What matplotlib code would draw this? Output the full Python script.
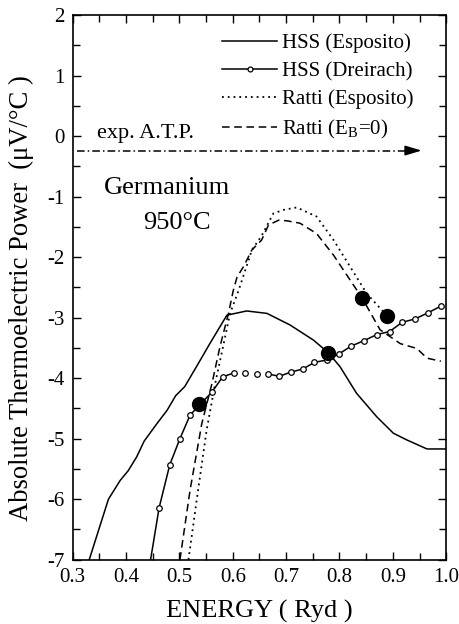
import numpy as np
import matplotlib.pyplot as plt
from matplotlib.lines import Line2D
from matplotlib.ticker import MultipleLocator

plt.rcParams['font.family'] = ['Liberation Serif', 'DejaVu Serif']
plt.rcParams['mathtext.fontset'] = 'custom'
plt.rcParams['mathtext.rm'] = 'Liberation Serif'
plt.rcParams['axes.unicode_minus'] = False

# HSS (Esposito)
hss_esp_x = [0.331, 0.367, 0.389, 0.404, 0.420, 0.434, 0.458, 0.477, 0.493, 0.510,
             0.532, 0.557, 0.589, 0.626, 0.664, 0.707, 0.751, 0.779, 0.801, 0.832,
             0.870, 0.901, 0.926, 0.964, 1.000]
hss_esp_y = [-7.00, -6.00, -5.69, -5.53, -5.30, -5.04, -4.75, -4.53, -4.29, -4.14,
             -3.81, -3.43, -2.96, -2.89, -2.93, -3.12, -3.37, -3.58, -3.81, -4.25,
             -4.64, -4.91, -5.02, -5.17, -5.17]

# HSS (Dreirach), computed points
hss_dre_x = [0.462, 0.482, 0.501, 0.520, 0.561, 0.581, 0.603, 0.623, 0.645, 0.666,
             0.687, 0.709, 0.731, 0.753, 0.776, 0.799, 0.822, 0.846, 0.870, 0.894,
             0.917, 0.942, 0.966, 0.990]
hss_dre_y = [-6.14, -5.43, -5.00, -4.61, -4.23, -3.98, -3.91, -3.92, -3.93, -3.93,
             -3.97, -3.90, -3.85, -3.74, -3.70, -3.60, -3.47, -3.38, -3.28, -3.23,
             -3.08, -3.02, -2.92, -2.81]
# where the Dreirach curve comes in from below the frame
hss_dre_start = (0.446, -7.00)

# Ratti (Esposito)
ratti_esp_x = [0.517, 0.535, 0.551, 0.567, 0.583, 0.595, 0.611, 0.636, 0.654, 0.676,
               0.695, 0.720, 0.757, 0.789, 0.820, 0.851, 0.889]
ratti_esp_y = [-7.00, -5.85, -4.86, -4.09, -3.43, -2.93, -2.55, -1.88, -1.65, -1.28,
               -1.22, -1.18, -1.33, -1.72, -2.16, -2.60, -2.97]

# Ratti (E_B = 0)
ratti_eb0_x = [0.501, 0.520, 0.542, 0.561, 0.576, 0.592, 0.601, 0.608, 0.620, 0.636,
               0.654, 0.667, 0.686, 0.701, 0.726, 0.757, 0.789, 0.820, 0.842, 0.876,
               0.914, 0.945, 0.964, 0.990]
ratti_eb0_y = [-7.00, -5.85, -4.75, -4.09, -3.48, -2.93, -2.55, -2.33, -2.16, -1.88,
               -1.72, -1.47, -1.39, -1.40, -1.44, -1.61, -1.97, -2.38, -2.67, -3.20,
               -3.43, -3.51, -3.67, -3.72]

# crossing points marked with big dots
cross_x = [0.536, 0.779, 0.842, 0.889]
cross_y = [-4.43, -3.58, -2.67, -2.97]

# experimental absolute thermoelectric power
exp_atp = -0.24
exp_x = [0.309, 0.954]

fig = plt.figure(figsize=(4.6, 6.24), dpi=100)
ax = fig.add_axes([0.158, 0.103, 0.812, 0.873])

lw = 1.1
dotted = (0, (1, 2.2))
dashed = (0, (5, 3))

ax.plot(hss_esp_x, hss_esp_y, color='k', lw=lw)

# Dreirach line has no segments across the flat part near 0.6-0.67
cut_a = hss_dre_x.index(0.603) + 1
cut_b = hss_dre_x.index(0.666)
ax.plot([hss_dre_start[0]] + hss_dre_x[:cut_a], [hss_dre_start[1]] + hss_dre_y[:cut_a],
        color='k', lw=lw)
ax.plot(hss_dre_x[cut_b:], hss_dre_y[cut_b:], color='k', lw=lw)
ax.plot(hss_dre_x, hss_dre_y, ls='none', marker='o', ms=4, mfc='white', mec='k',
        mew=0.9, zorder=4)

ax.plot(ratti_esp_x, ratti_esp_y, color='k', lw=1.3, ls=dotted)
ax.plot(ratti_eb0_x, ratti_eb0_y, color='k', lw=lw, ls=dashed)
ax.plot(cross_x, cross_y, ls='none', marker='o', ms=10, color='k', zorder=5)

# arrow for the measured value
ax.plot([exp_x[0], exp_x[1] - 0.02], [exp_atp, exp_atp], color='k', lw=lw,
        ls=(0, (5, 2, 1, 2)))
ax.annotate('', xy=(exp_x[1], exp_atp), xytext=(exp_x[1] - 0.03, exp_atp),
            arrowprops=dict(arrowstyle='-|>,head_length=1.0,head_width=0.3',
                            color='k', lw=lw, shrinkA=0, shrinkB=0))
ax.text(0.436, 0.05, 'exp. A.T.P.', fontsize=16, ha='center', va='center')
ax.text(0.476, -0.86, 'Germanium', fontsize=19, ha='center', va='center')
ax.text(0.495, -1.43, '950°C', fontsize=19, ha='center', va='center')

handles = [
    Line2D([], [], color='k', lw=lw),
    Line2D([], [], color='k', lw=lw, marker='o', ms=3.5, mfc='white', mec='k', mew=0.9),
    Line2D([], [], color='k', lw=1.3, ls=dotted),
    Line2D([], [], color='k', lw=lw, ls=dashed),
]
labels = ['HSS (Esposito)', 'HSS (Dreirach)', 'Ratti (Esposito)', 'Ratti (E$_\\mathrm{B}$=0)']
ax.legend(handles, labels, loc='upper right', bbox_to_anchor=(0.912, 0.966),
          frameon=False, fontsize=15, handlelength=2.6, handletextpad=0.25,
          labelspacing=0.4, borderpad=0, borderaxespad=0)

ax.set_xlim(0.3, 1.0)
ax.set_ylim(-7, 2)
ax.xaxis.set_minor_locator(MultipleLocator(0.05))
ax.yaxis.set_major_locator(MultipleLocator(1))
ax.yaxis.set_minor_locator(MultipleLocator(0.5))
ax.set_xticks(np.arange(0.3, 1.01, 0.1))
ax.set_xticklabels(['0.3', '0.4', '0.5', '0.6', '0.7', '0.8', '0.9', '1.0'])
ax.tick_params(which='both', direction='in', top=True, right=True, width=1.0,
               labelsize=15, pad=6)
ax.tick_params(which='major', length=6)
ax.tick_params(which='minor', length=5)
for s in ax.spines.values():
    s.set_linewidth(1.2)

ax.set_xlabel('ENERGY ( Ryd )', fontsize=19, labelpad=9)
ax.set_ylabel('Absolute Thermoelectric Power  (μV/°C )', fontsize=19.2)
ax.yaxis.set_label_coords(-0.104, 0.48)

fig.savefig('out.png', dpi=100)
